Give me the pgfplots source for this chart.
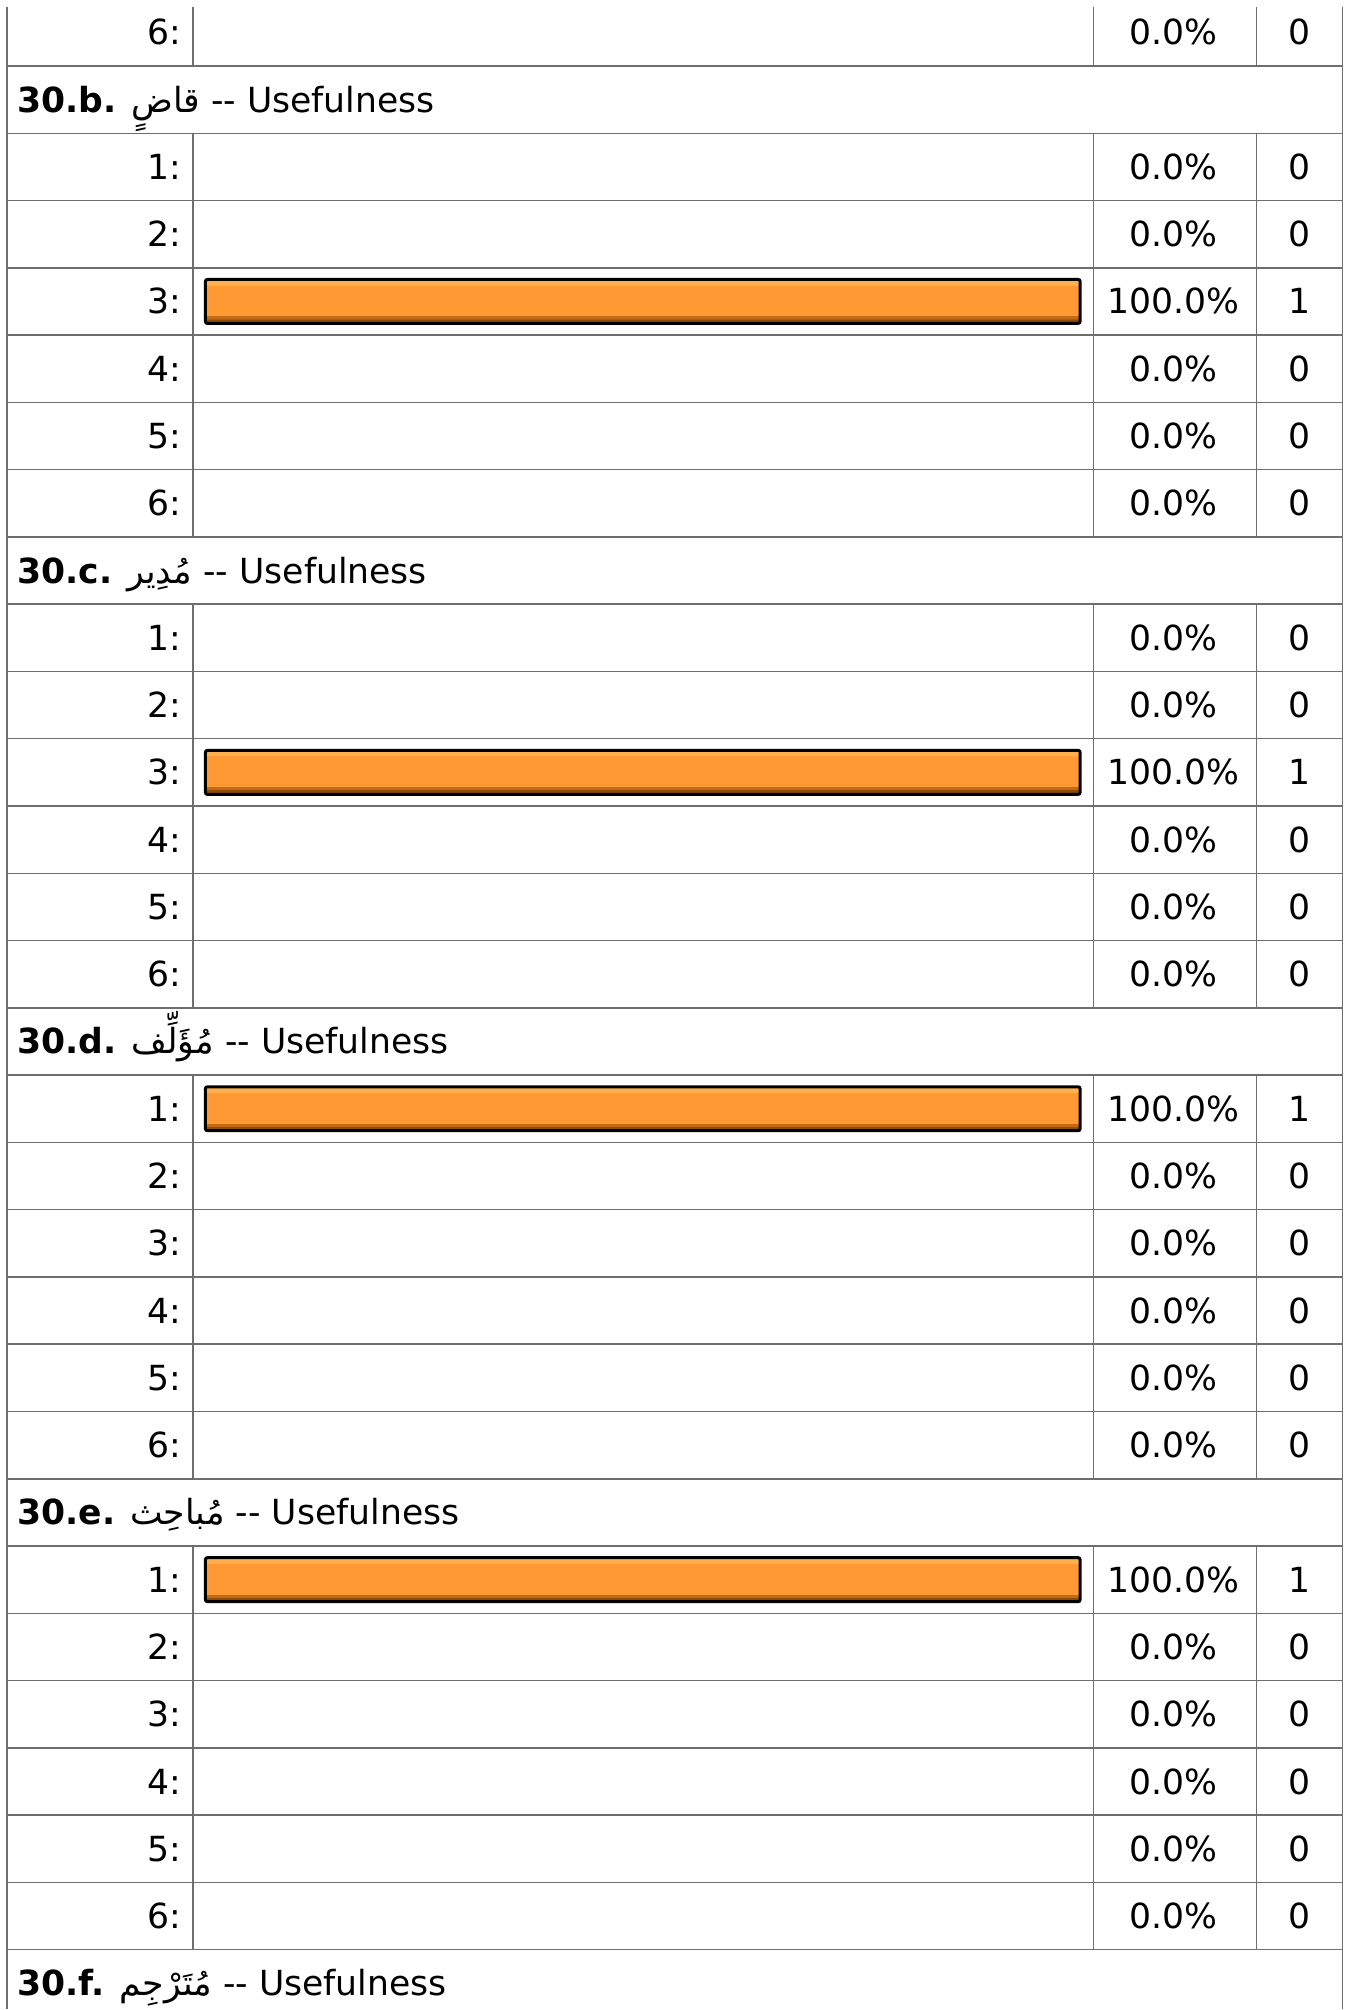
\documentclass[border=0pt]{standalone}
\usepackage{pgfplots}
\pgfplotsset{compat=1.18}
\usepackage{pgfplotstable}
\usepackage{fontspec}
\setmainfont{DejaVu Sans}
\newfontfamily\arabicfont[Script=Arabic]{DejaVu Sans}
\TeXXeTstate=1

\definecolor{gridc}{HTML}{6E6E6E}
\definecolor{barmain}{HTML}{FF9933}
\definecolor{barlight}{HTML}{FFB04D}
\definecolor{bardark}{HTML}{C46A14}
\definecolor{bardarker}{HTML}{8F4C06}

\pgfdeclareverticalshading{barshade}{100bp}{color(0bp)=(bardarker); color(30bp)=(bardarker); color(30.1bp)=(bardark); color(33.5bp)=(bardark); color(33.6bp)=(barmain); color(68.6bp)=(barmain); color(68.7bp)=(barlight); color(100bp)=(barlight)}

\newcommand\mainsize{\fontsize{13.84}{16}\selectfont}

\pgfplotstableread{
k lab pct cnt
0 6 0 0
2 1 0 0
3 2 0 0
4 3 100 1
5 4 0 0
6 5 0 0
7 6 0 0
9 1 0 0
10 2 0 0
11 3 100 1
12 4 0 0
13 5 0 0
14 6 0 0
16 1 100 1
17 2 0 0
18 3 0 0
19 4 0 0
20 5 0 0
21 6 0 0
23 1 100 1
24 2 0 0
25 3 0 0
26 4 0 0
27 5 0 0
28 6 0 0
}\rows

\newcommand\vdiv[2]{%
  \draw[gridc, line width=0.6pt]
    (axis cs:-1.4286,#1) -- (axis cs:-1.4286,#2)
    (axis cs:101.543,#1) -- (axis cs:101.543,#2)
    (axis cs:120.171,#1) -- (axis cs:120.171,#2);}

\newcommand\header[2]{%
  \node[anchor=base west, yshift=-5pt, inner sep=0pt, font=\mainsize]
    at (axis cs:-21.543,#1) {#2};}

% one bar plot per question block, so each bar gets its own shading
\newcommand\barplot[2]{%
  \addplot[xbar, bar width=0.6538, draw=black, line width=1.2pt,
    shade, shading=barshade, rounded corners=0.8pt,
    restrict y to domain=#1:#2,
    x filter/.expression={x==0 ? nan : x}]
    table[x=pct, y=k] {\rows};}

\begin{document}
\begin{tikzpicture}
\begin{axis}[
  width=541.2pt, height=804pt, scale only axis,
  xmin=-23.486, xmax=131.143, ymin=-0.48068, ymax=29.3856,
  y dir=reverse, hide axis, clip=false,
  /pgf/number format/assume math mode=true,
]
\path (rel axis cs:0,0) rectangle (rel axis cs:1,1);

% horizontal rules
\pgfplotsinvokeforeach{0,...,28}{
  \draw[gridc, line width=0.6pt] (axis cs:-22.686,#1+0.5) -- (axis cs:130,#1+0.5);
}
% outer borders
\draw[gridc, line width=0.6pt] (axis cs:-22.686,-0.37667) -- (axis cs:-22.686,29.3856);
\draw[gridc, line width=0.6pt] (axis cs:130,-0.37667) -- (axis cs:130,29.3856);
% column dividers
\vdiv{-0.37667}{0.5}
\vdiv{1.5}{7.5}
\vdiv{8.5}{14.5}
\vdiv{15.5}{21.5}
\vdiv{22.5}{28.5}

% bars
\barplot{-0.5}{0.5}
\barplot{1.5}{7.5}
\barplot{8.5}{14.5}
\barplot{15.5}{21.5}
\barplot{22.5}{28.5}

% row labels
\addplot[draw=none, mark=none, point meta=explicit symbolic,
  nodes near coords={\pgfplotspointmeta:},
  every node near coord/.append style={anchor=base east, yshift=-5pt, inner sep=0pt, font=\mainsize}]
  table[x expr=-2.743, y=k, meta=lab] {\rows};

% percentages
\addplot[draw=none, mark=none, point meta=explicit,
  nodes near coords={\pgfmathprintnumber[fixed,fixed zerofill,precision=1]{\pgfplotspointmeta}\%},
  every node near coord/.append style={anchor=base, yshift=-5pt, inner sep=0pt, font=\mainsize}]
  table[x expr=110.686, y=k, meta=pct] {\rows};

% counts
\addplot[draw=none, mark=none, point meta=explicit symbolic,
  nodes near coords={\pgfplotspointmeta},
  every node near coord/.append style={anchor=base, yshift=-5pt, inner sep=0pt, font=\mainsize}]
  table[x expr=125.029, y=k, meta=cnt] {\rows};

% headers
\header{1}{\textbf{30.b.} {\arabicfont\beginR قاضٍ\endR} -{}- Usefulness}
\header{8}{\textbf{30.c.} {\arabicfont\beginR مُدِير\endR} -{}- Usefulness}
\header{15}{\textbf{30.d.} {\arabicfont\beginR مُؤَلِّف\endR} -{}- Usefulness}
\header{22}{\textbf{30.e.} {\arabicfont\beginR مُباحِث\endR} -{}- Usefulness}
\header{29}{\textbf{30.f.} {\arabicfont\beginR مُتَرْجِم\endR} -{}- Usefulness}
\end{axis}
\end{tikzpicture}
\end{document}
